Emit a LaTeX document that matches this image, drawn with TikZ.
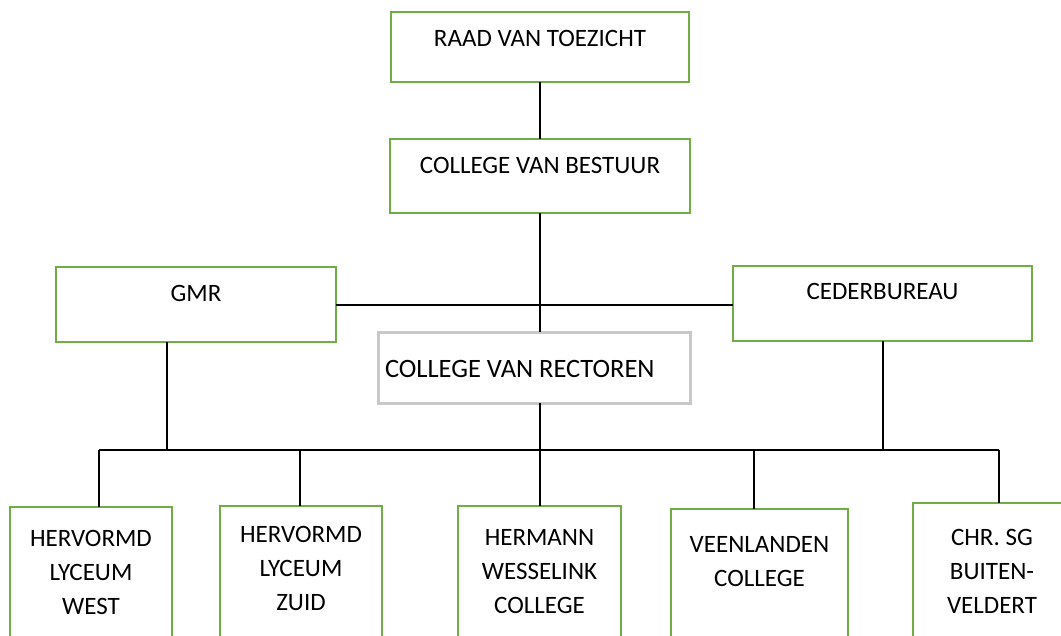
\documentclass[tikz,border=0pt]{standalone}
\usepackage{fontspec}
\setmainfont{Carlito}
\usepackage{xcolor}
\definecolor{boxgreen}{HTML}{70AD47}
\definecolor{boxgrey}{HTML}{C8C8C8}
\usepackage{tikz}

\begin{document}
\begin{tikzpicture}[x=1pt, y=-1pt,
  orgbox/.style={draw=boxgreen, line width=2pt, inner sep=0pt, outer sep=0pt,
    align=center, anchor=north west, font=\fontsize{25}{34}\selectfont},
  rectorbox/.style={draw=boxgrey, line width=3pt, inner xsep=7pt, inner ysep=0pt,
    outer sep=0pt, align=flush left, anchor=north west, font=\fontsize{26.5}{30}\selectfont},
  link/.style={line width=2pt, color=black}]
  \useasboundingbox (0,0) rectangle (1061,635);
  \clip (0,0) rectangle (1061,635);

  \node[orgbox, minimum width=298pt, text height=34pt, text depth=36pt] (raad) at (391,12) {RAAD VAN TOEZICHT};
  \node[orgbox, minimum width=300pt, text height=34pt, text depth=40pt] (cvb) at (390,139) {COLLEGE VAN BESTUUR};
  \node[orgbox, minimum width=280pt, text height=34pt, text depth=41pt] (gmr) at (56,267) {GMR};
  \node[orgbox, minimum width=299pt, text height=33pt, text depth=42pt] (ceder) at (733,266) {CEDERBUREAU};
  \node[rectorbox, text width=298pt, text height=45pt, text depth=26pt] (cvr) at (378,332) {COLLEGE VAN RECTOREN};

  \node[orgbox, minimum width=162pt, text height=107pt, text depth=100pt] (west) at (10,507) {HERVORMD\\LYCEUM\\WEST};
  \node[orgbox, minimum width=162pt, text height=104pt, text depth=100pt] (zuid) at (220,506) {HERVORMD\\LYCEUM\\ZUID};
  \node[orgbox, minimum width=163pt, text height=107pt, text depth=100pt] (herm) at (458,506) {HERMANN\\WESSELINK\\COLLEGE};
  \node[orgbox, minimum width=177pt, text height=77pt, text depth=100pt] (veen) at (671,509) {VEENLANDEN\\COLLEGE};
  \node[orgbox, minimum width=158pt, text height=110pt, text depth=100pt] (chr) at (913,503) {CHR. SG\\BUITEN-\\VELDERT};

  \coordinate (busL) at (99,450);
  \coordinate (busR) at (999,450);
  \coordinate (gmrleg) at (167,450);
  \coordinate (zuidleg) at (300,450);
  \coordinate (veenleg) at (754,450);

  \draw[link] (raad.south) -- (cvb.north);
  \draw[link] (cvb.south) -- (cvb.south |- cvr.north);
  \draw[link] (gmr.east) -- (gmr.east -| ceder.west);
  \draw[link] (gmrleg |- gmr.south) -- (gmrleg);
  \draw[link] (ceder.south) -- (ceder.south |- busR);
  \draw[link] (busL) -- (busR);
  \draw[link] (busL) -- (busL |- west.north);
  \draw[link] (zuidleg) -- (zuidleg |- zuid.north);
  \draw[link] (cvr.south -| herm.north) -- (herm.north);
  \draw[link] (veenleg) -- (veenleg |- veen.north);
  \draw[link] (busR) -- (busR |- chr.north);
\end{tikzpicture}
\end{document}
